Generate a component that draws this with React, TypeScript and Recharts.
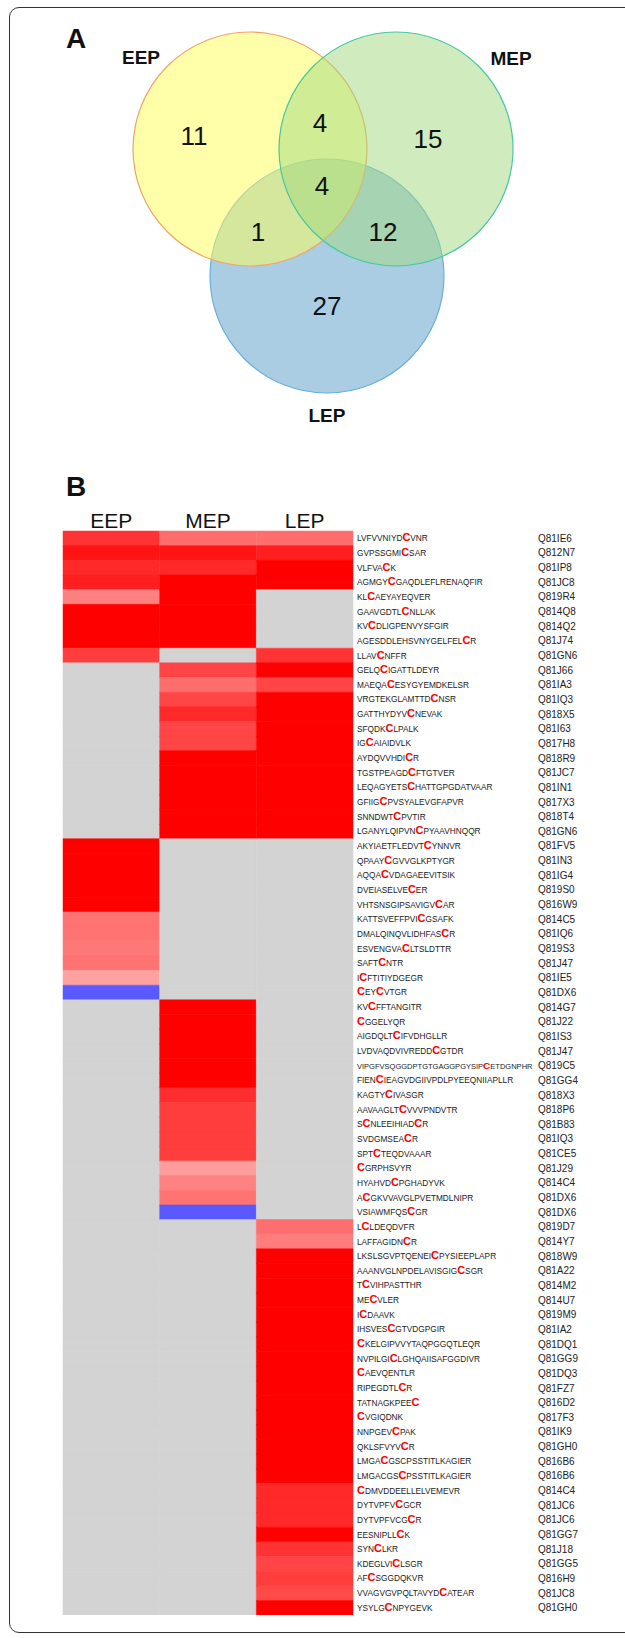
import React from 'react';
import { ScatterChart, Scatter, XAxis, YAxis, BarChart, Bar, Cell } from 'recharts';

const FONT = "'Liberation Sans', Arial, Helvetica, sans-serif";

// ---------- Panel A: Venn diagram counts ----------
const SAMPLES = ['EEP', 'MEP', 'LEP'];
const REGIONS = ['EEP', 'MEP', 'LEP', 'EEP+MEP', 'EEP+LEP', 'MEP+LEP', 'EEP+MEP+LEP'];
const REGION_COUNTS = [11, 15, 27, 4, 1, 12, 4];

// ---------- Panel B: peptide heat map ----------
// lowercase "c" marks the labelled cysteine of each peptide
const PEPTIDES = [
  'LVFVVNIYDcVNR', 'GVPSSGMIcSAR', 'VLFVAcK', 'AGMGYcGAQDLEFLRENAQFIR', 'KLcAEYAYEQVER',
  'GAAVGDTLcNLLAK', 'KVcDLIGPENVYSFGIR', 'AGESDDLEHSVNYGELFELcR', 'LLAVcNFFR', 'GELQcIGATTLDEYR',
  'MAEQAcESYGYEMDKELSR', 'VRGTEKGLAMTTDcNSR', 'GATTHYDYVcNEVAK', 'SFQDKcLPALK', 'IGcAIAIDVLK',
  'AYDQVVHDIcR', 'TGSTPEAGDcFTGTVER', 'LEQAGYETScHATTGPGDATVAAR', 'GFIIGcPVSYALEVGFAPVR', 'SNNDWTcPVTIR',
  'LGANYLQIPVNcPYAAVHNQQR', 'AKYIAETFLEDVTcYNNVR', 'QPAAYcGVVGLKPTYGR', 'AQQAcVDAGAEEVITSIK', 'DVEIASELVEcER',
  'VHTSNSGIPSAVIGVcAR', 'KATTSVEFFPVIcGSAFK', 'DMALQINQVLIDHFAScR', 'ESVENGVAcLTSLDTTR', 'SAFTcNTR',
  'IcFTITIYDGEGR', 'cEYcVTGR', 'KVcFFTANGITR', 'cGGELYQR', 'AIGDQLTcIFVDHGLLR',
  'LVDVAQDVIVREDDcGTDR', 'VIPGFVSQGGDPTGTGAGGPGYSIPcETDGNPHR', 'FIENcIEAGVDGIIVPDLPYEEQNIIAPLLR', 'KAGTYcIVASGR', 'AAVAAGLTcVVVPNDVTR',
  'ScNLEEIHIADcR', 'SVDGMSEAcR', 'SPTcTEQDVAAAR', 'cGRPHSVYR', 'HYAHVDcPGHADYVK',
  'AcGKVVAVGLPVETMDLNIPR', 'VSIAWMFQScGR', 'LcLDEQDVFR', 'LAFFAGIDNcR', 'LKSLSGVPTQENEIcPYSIEEPLAPR',
  'AAANVGLNPDELAVISGIGcSGR', 'TcVIHPASTTHR', 'MEcVLER', 'IcDAAVK', 'IHSVEScGTVDGPGIR',
  'cKELGIPVVYTAQPGGQTLEQR', 'NVPILGIcLGHQAIISAFGGDIVR', 'cAEVQENTLR', 'RIPEGDTLcR', 'TATNAGKPEEc',
  'cVGIQDNK', 'NNPGEVcPAK', 'QKLSFVYVcR', 'LMGAcGSCPSSTITLKAGIER', 'LMGACGScPSSTITLKAGIER',
  'cDMVDDEELLELVEMEVR', 'DYTVPFVcGCR', 'DYTVPFVCGcR', 'EESNIPLLcK', 'SYNcLKR',
  'KDEGLVIcLSGR', 'AFcSGGDQKVR', 'VVAGVGVPQLTAVYDcATEAR', 'YSYLGcNPYGEVK',
];

const ACCESSIONS = [
  'Q81IE6', 'Q812N7', 'Q81IP8', 'Q81JC8', 'Q819R4', 'Q814Q8', 'Q814Q2', 'Q81J74', 'Q81GN6', 'Q81J66',
  'Q81IA3', 'Q81IQ3', 'Q818X5', 'Q81I63', 'Q817H8', 'Q818R9', 'Q81JC7', 'Q81IN1', 'Q817X3', 'Q818T4',
  'Q81GN6', 'Q81FV5', 'Q81IN3', 'Q81IG4', 'Q819S0', 'Q816W9', 'Q814C5', 'Q81IQ6', 'Q819S3', 'Q81J47',
  'Q81IE5', 'Q81DX6', 'Q814G7', 'Q81J22', 'Q81IS3', 'Q81J47', 'Q819C5', 'Q81GG4', 'Q818X3', 'Q818P6',
  'Q81B83', 'Q81IQ3', 'Q81CE5', 'Q81J29', 'Q814C4', 'Q81DX6', 'Q81DX6', 'Q819D7', 'Q814Y7', 'Q818W9',
  'Q81A22', 'Q814M2', 'Q814U7', 'Q819M9', 'Q81IA2', 'Q81DQ1', 'Q81GG9', 'Q81DQ3', 'Q81FZ7', 'Q816D2',
  'Q817F3', 'Q81IK9', 'Q81GH0', 'Q816B6', 'Q816B6', 'Q814C4', 'Q81JC6', 'Q81JC6', 'Q81GG7', 'Q81J18',
  'Q81GG5', 'Q816H9', 'Q81JC8', 'Q81GH0',
];

// relative level per stage (positive = red, negative = blue, null = not detected)
const _ = null;
const EEP_LEVELS = [
  0.80, 0.92, 0.84, 0.88, 0.50, 1, 1, 1, 0.76, _,
  _, _, _, _, _, _, _, _, _, _,
  _, 1, 1, 1, 1, 1, 0.55, 0.55, 0.53, 0.55,
  0.37, -0.65, _, _, _, _, _, _, _, _,
  _, _, _, _, _, _, _, _, _, _,
  _, _, _, _, _, _, _, _, _, _,
  _, _, _, _, _, _, _, _, _, _,
  _, _, _, _,
];
const MEP_LEVELS = [
  0.57, 0.92, 0.84, 1, 1, 1, 1, 1, _, 0.73,
  0.57, 0.73, 0.84, 0.73, 0.73, 1, 1, 1, 1, 1,
  1, _, _, _, _, _, _, _, _, _,
  _, _, 1, 1, 1, 1, 1, 1, 0.82, 0.76,
  0.76, 0.76, 0.76, 0.39, 0.49, 0.55, -0.65, _, _, _,
  _, _, _, _, _, _, _, _, _, _,
  _, _, _, _, _, _, _, _, _, _,
  _, _, _, _,
];
const LEP_LEVELS = [
  0.57, 0.88, 1, 1, _, _, _, _, 0.80, 1,
  0.73, 1, 1, 1, 1, 1, 1, 1, 1, 1,
  1, _, _, _, _, _, _, _, _, _,
  _, _, _, _, _, _, _, _, _, _,
  _, _, _, _, _, _, _, 0.57, 0.51, 1,
  1, 1, 1, 1, 1, 1, 1, 1, 1, 1,
  1, 1, 1, 1, 1, 0.84, 0.84, 0.84, 1, 0.80,
  0.73, 0.76, 0.71, 1,
];
const LEVELS: Record<string, (number | null)[]> = { EEP: EEP_LEVELS, MEP: MEP_LEVELS, LEP: LEP_LEVELS };

// ---------- drawing geometry ----------
const VENN_W = 625;
const VENN_H = 470;
const VENN_GEOMETRY = {
  radius: 117,
  drawOrder: ['LEP', 'EEP', 'MEP'],
  centres: { EEP: [250, 149], MEP: [396, 149], LEP: [327, 276] } as Record<string, number[]>,
  setLabelAt: { EEP: [141, 64], MEP: [511, 65], LEP: [327, 422] } as Record<string, number[]>,
  regionAt: {
    EEP: [194, 135], MEP: [428, 138], LEP: [327, 305], 'EEP+MEP': [320, 122],
    'EEP+LEP': [258, 231], 'MEP+LEP': [383, 231], 'EEP+MEP+LEP': [322, 185],
  } as Record<string, number[]>,
};
const VENN_STYLE: Record<string, { fill: string; stroke: string }> = {
  EEP: { fill: '#FFFF55', stroke: '#EFA46A' },
  MEP: { fill: '#A1D97D', stroke: '#46C8A2' },
  LEP: { fill: '#559BC9', stroke: '#6AAEDC' },
};

const ROW_H = 14.65;
const HEADER_H = 30;
const HEAT_LEFT = 63;
const HEAT_RIGHT = 353;
const LABEL_FONT = 8.3;
const C_FONT = 11;
const ID_OFFSET = 181;
const LABEL_MAX = ID_OFFSET - 5;

// Arial-like advance widths (em) used to keep long labels clear of the accession column
const GLYPH_W: Record<string, number> = {
  A: 0.667, B: 0.667, C: 0.722, D: 0.722, E: 0.667, F: 0.611, G: 0.778, H: 0.722, I: 0.278,
  K: 0.667, L: 0.556, M: 0.833, N: 0.722, P: 0.667, Q: 0.778, R: 0.722, S: 0.667, T: 0.611,
  V: 0.667, W: 0.944, Y: 0.667,
};
function labelWidth(seq: string): number {
  let w = 0;
  for (const ch of seq) {
    if (ch === 'c') w += 0.722 * C_FONT;
    else w += (GLYPH_W[ch] ?? 0.667) * LABEL_FONT;
  }
  return w;
}

function cellColor(v: number | null): string {
  if (v === null) return '#D3D3D3';
  if (v >= 0) {
    const g = Math.round(255 * (1 - v));
    return `rgb(255,${g},${g})`;
  }
  const g = Math.round(255 * (1 + v));
  return `rgb(${g},${g},255)`;
}

const circleData = VENN_GEOMETRY.drawOrder.map((name) => ({
  name,
  x: VENN_GEOMETRY.centres[name][0],
  y: VENN_GEOMETRY.centres[name][1],
}));
const regionData = REGIONS.map((r, i) => ({
  name: r,
  count: REGION_COUNTS[i],
  x: VENN_GEOMETRY.regionAt[r][0],
  y: VENN_GEOMETRY.regionAt[r][1],
}));
const setLabelData = SAMPLES.map((s) => ({
  name: s,
  x: VENN_GEOMETRY.setLabelAt[s][0],
  y: VENN_GEOMETRY.setLabelAt[s][1],
}));

const heatRows = PEPTIDES.map((p, i) => ({ peptide: p, accession: ACCESSIONS[i], EEP: 1, MEP: 1, LEP: 1 }));

function VennCircle(props: any) {
  const { cx, cy, payload } = props;
  const st = VENN_STYLE[payload.name];
  return (
    <circle cx={cx} cy={cy} r={VENN_GEOMETRY.radius} fill={st.fill} fillOpacity={0.5}
      stroke={st.stroke} strokeWidth={1.2} />
  );
}

function RegionCount(props: any) {
  const { cx, cy, payload } = props;
  return (
    <text x={cx} y={cy + 9.5} textAnchor="middle" fontSize={26} fill="#111" fontFamily={FONT}>
      {payload.count}
    </text>
  );
}

function SetLabel(props: any) {
  const { cx, cy, payload } = props;
  return (
    <text x={cx} y={cy} textAnchor="middle" fontSize={19} fontWeight="bold" fill="#111" fontFamily={FONT}>
      {payload.name}
    </text>
  );
}

function HeaderTick(props: any) {
  const { x, y, payload } = props;
  return (
    <text x={x} y={y} textAnchor="middle" fontSize={21} fill="#111" fontFamily={FONT}>
      {SAMPLES[Math.floor(payload.value)]}
    </text>
  );
}

function PeptideTick(props: any) {
  const { x, y, payload } = props;
  const seq = String(payload.value);
  const i = PEPTIDES.indexOf(seq);
  const parts = seq.split(/(c)/).filter((p) => p.length > 0);
  // shrink the few labels that would otherwise run into the accession column
  const k = Math.min(1, LABEL_MAX / labelWidth(seq));
  return (
    <g>
      <text x={x} y={y + 3} fontSize={LABEL_FONT * k} fill="#222" fontFamily={FONT}>
        {parts.map((p, j) =>
          p === 'c' ? (
            <tspan key={j} fill="#FF0000" fontSize={C_FONT * k} fontWeight="bold">C</tspan>
          ) : (
            <tspan key={j}>{p}</tspan>
          )
        )}
      </text>
      <text x={x + ID_OFFSET} y={y + 3.5} fontSize={10} fill="#222" fontFamily={FONT}>
        {ACCESSIONS[i]}
      </text>
    </g>
  );
}

export default function App() {
  const heatHeight = HEADER_H + ROW_H * PEPTIDES.length;
  return (
    <div style={{ position: 'absolute', left: 0, top: 0, width: 625, height: 1638, overflow: 'hidden', background: '#fff' }}>
      <div style={{
        position: 'absolute', left: 9, top: 7, width: 700, height: 1626, boxSizing: 'border-box',
        border: '1.5px solid #333', borderRadius: 10,
      }} />

      <div style={{ position: 'absolute', left: 0, top: 0 }}>
        <ScatterChart width={VENN_W} height={VENN_H} margin={{ top: 0, right: 0, bottom: 0, left: 0 }}>
          <XAxis type="number" dataKey="x" domain={[0, VENN_W]} allowDataOverflow hide />
          <YAxis type="number" dataKey="y" domain={[0, VENN_H]} allowDataOverflow reversed hide />
          <Scatter data={circleData} shape={VennCircle} isAnimationActive={false} />
          <Scatter data={regionData} shape={RegionCount} isAnimationActive={false} />
          <Scatter data={setLabelData} shape={SetLabel} isAnimationActive={false} />
        </ScatterChart>
      </div>

      <div style={{ position: 'absolute', left: 0, top: 531 - HEADER_H }}>
        <BarChart
          layout="vertical"
          width={625}
          height={heatHeight}
          data={heatRows}
          margin={{ top: 0, right: 0, bottom: 0, left: HEAT_LEFT }}
          barCategoryGap={0}
          barGap={0}
        >
          <XAxis type="number" orientation="top" domain={[0, 3]} ticks={[0.5, 1.5, 2.5]} height={HEADER_H}
            axisLine={false} tickLine={false} tickSize={0} tickMargin={3} tick={<HeaderTick />} />
          <YAxis type="category" dataKey="peptide" orientation="right" width={625 - HEAT_RIGHT}
            axisLine={false} tickLine={false} tickSize={0} tickMargin={4} interval={0} tick={<PeptideTick />} />
          {SAMPLES.map((s) => (
            <Bar key={s} dataKey={s} stackId="heat" isAnimationActive={false}>
              {heatRows.map((_r, i) => {
                const c = cellColor(LEVELS[s][i]);
                return <Cell key={i} fill={c} stroke={c} strokeWidth={0.5} />;
              })}
            </Bar>
          ))}
        </BarChart>
      </div>

      <svg width={625} height={1638} style={{ position: 'absolute', left: 0, top: 0, pointerEvents: 'none' }}>
        <text x={66} y={48} fontSize={28} fontWeight="bold" fill="#111" fontFamily={FONT}>A</text>
        <text x={66} y={496} fontSize={28} fontWeight="bold" fill="#111" fontFamily={FONT}>B</text>
      </svg>
    </div>
  );
}
